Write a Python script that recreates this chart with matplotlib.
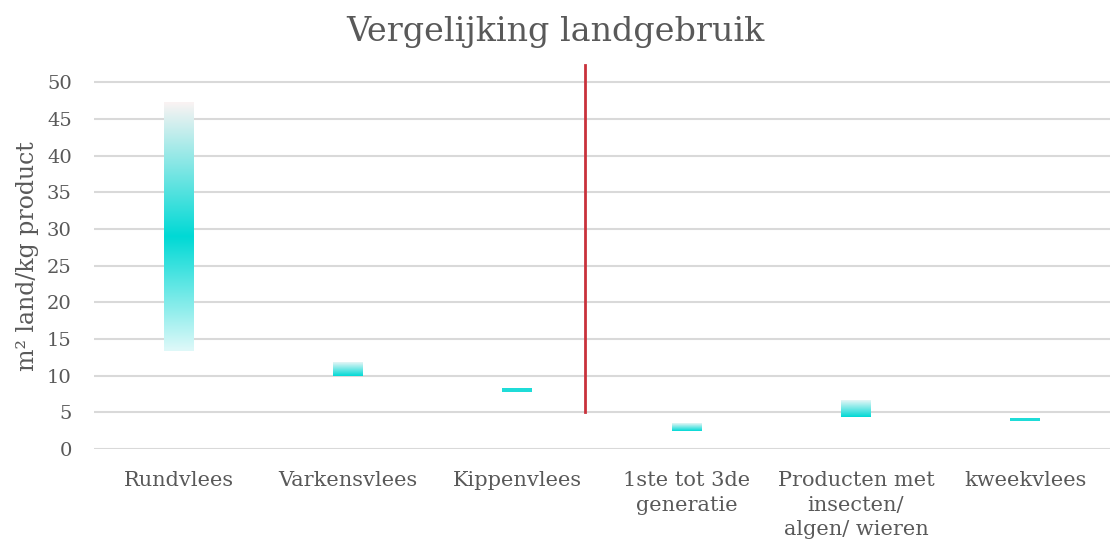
import numpy as np
import matplotlib.pyplot as plt
from matplotlib.colors import LinearSegmentedColormap

categories = ["Rundvlees", "Varkensvlees", "Kippenvlees",
              "1ste tot 3de\ngeneratie", "Producten met\ninsecten/\nalgen/ wieren",
              "kweekvlees"]
low = [13.4, 10.0, 7.8, 2.45, 4.35, 3.8]
high = [47.3, 11.85, 8.3, 3.45, 6.65, 4.15]
yticks = [0, 5, 10, 15, 20, 25, 30, 35, 40, 45, 50]
divider_x = 2.4
divider_y = (5.0, 52.4)

plt.rcParams['font.family'] = ['DejaVu Serif']
grey = '#595959'

fig = plt.figure(figsize=(11.11, 5.47), dpi=100)
ax = fig.add_axes([0.0846, 0.179, 0.9144, 0.704])

x = np.arange(len(categories))
heights = [h - l for h, l in zip(high, low)]
bars = ax.bar(x, heights, bottom=low, width=0.177, color='none', zorder=3)

# gradient fills
cmap_big = LinearSegmentedColormap.from_list(
    'big', [(0.0, '#dff9f9'), (0.46, '#00d9d5'), (1.0, '#faf3f3')])
cmap_small = LinearSegmentedColormap.from_list(
    'small', [(0.0, '#00d9d5'), (1.0, '#e6f6f6')])
cmap_flat = LinearSegmentedColormap.from_list('flat', ['#1fdcd8', '#1fdcd8'])
grad = np.linspace(0, 1, 256).reshape(-1, 1)
for i, b in enumerate(bars):
    x0 = b.get_x()
    x1 = x0 + b.get_width()
    y0 = b.get_y()
    y1 = y0 + b.get_height()
    if i == 0:
        cm = cmap_big
    elif i in (2, 5):
        cm = cmap_flat
    else:
        cm = cmap_small
    ax.imshow(grad, cmap=cm, extent=[x0, x1, y0, y1], origin='lower',
              aspect='auto', zorder=3, interpolation='bilinear')

ax.plot([divider_x, divider_x], divider_y, color='#c9313b', lw=2, zorder=4)

ax.set_xlim(-0.5, len(categories) - 0.5)
ax.set_ylim(0, 52.5)
ax.set_yticks(yticks)
ax.set_xticks(x)
ax.set_xticklabels(categories, fontsize=15, color=grey, linespacing=1.35)
ax.tick_params(axis='y', labelsize=14, labelcolor=grey, length=0, pad=16)
ax.tick_params(axis='x', length=0, pad=16)
ax.grid(axis='y', color='#d9d9d9', lw=1.5, zorder=0)
for s in ax.spines.values():
    s.set_visible(False)

ax.set_ylabel('m² land/kg product', fontsize=17, color=grey, labelpad=6)
fig.suptitle('Vergelijking landgebruik', fontsize=24, color=grey, y=0.97)

fig.savefig('out.png', dpi=100)
